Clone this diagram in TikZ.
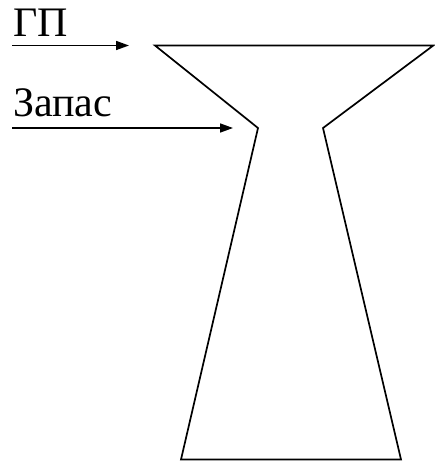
\documentclass[tikz,border=0pt]{standalone}
\usepackage{fontspec}
\setmainfont{Liberation Serif}
\usetikzlibrary{arrows.meta}
\tikzset{
  lbl/.style={anchor=base west, inner sep=0pt, font=\fontsize{42}{46}\selectfont},
  inarrow/.style={line width=1.6pt, -{Triangle[length=13pt,width=9pt]}},
  outline/.style={line width=1.7pt, line join=miter}
}
\begin{document}
\begin{tikzpicture}[x=1pt,y=-1pt]
\useasboundingbox (0,0) rectangle (434,462);
% labels
\node[lbl] (gp) at (13,37) {ГП};
\node[lbl] (zapas) at (13,117) {Запас};
% arrows
\coordinate (gpS) at (12,45.5);
\coordinate (gpE) at (129,45.5);
\coordinate (zS) at (12,128);
\coordinate (zE) at (233,128);
\draw[inarrow] (gpS) -- (gpE);
\draw[inarrow] (zS) -- (zE);
% shape
\coordinate (tl) at (155,45.5);
\coordinate (tr) at (433.3,45.5);
\coordinate (nl) at (258,128);
\coordinate (nr) at (323,128);
\coordinate (bl) at (181,459.5);
\coordinate (br) at (401,459.5);
\draw[outline] (tl) -- (tr) -- (nr) -- (br) -- (bl) -- (nl) -- cycle;
\end{tikzpicture}
\end{document}
